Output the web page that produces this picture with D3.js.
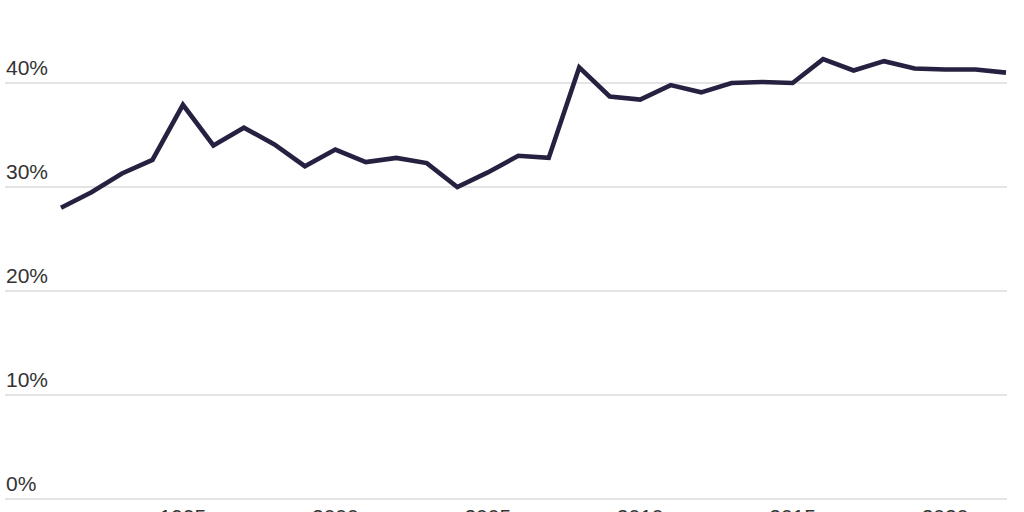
<!DOCTYPE html>
<html>
<head>
<meta charset="utf-8">
<script src="https://cdn.jsdelivr.net/npm/d3@7"></script>
<style>
  html, body { margin: 0; padding: 0; background: #fff; overflow: hidden; }
  svg { display: block; }
</style>
</head>
<body>
<svg id="chart" width="1024" height="512"></svg>
<script>
const years = [1991,1992,1993,1994,1995,1996,1997,1998,1999,2000,2001,2002,2003,2004,2005,2006,2007,2008,2009,2010,2011,2012,2013,2014,2015,2016,2017,2018,2019,2020,2021,2022];
const values = [28.0,29.5,31.3,32.6,37.9,34.0,35.7,34.1,32.0,33.6,32.4,32.8,32.3,30.0,31.4,33.0,32.8,41.5,38.7,38.4,39.8,39.1,40.0,40.1,40.0,42.3,41.2,42.1,41.4,41.3,41.3,41.0];
const yTicks = [0,10,20,30,40];
const xTicks = [1995,2000,2005,2010,2015,2020];

const svg = d3.select("#chart");
const x = d3.scaleLinear().domain([1991, 2022]).range([61, 1006]);
const y = d3.scaleLinear().domain([0, 40]).range([499, 83]);

// gridlines
svg.append("g").selectAll("line").data(yTicks).join("line")
  .attr("x1", 5).attr("x2", 1007)
  .attr("y1", d => y(d)).attr("y2", d => y(d))
  .attr("stroke", "#e4e4e4").attr("stroke-width", 2);

// y labels
svg.append("g").selectAll("text").data(yTicks).join("text")
  .attr("x", 6).attr("y", d => y(d) - 8)
  .attr("font-family", "'Liberation Sans', Arial, sans-serif")
  .attr("font-size", 21).attr("fill", "#333")
  .text(d => d + "%");

// x labels
svg.append("g").selectAll("text").data(xTicks).join("text")
  .attr("x", d => x(d)).attr("y", 524)
  .attr("text-anchor", "middle")
  .attr("font-family", "'Liberation Sans', Arial, sans-serif")
  .attr("font-size", 21).attr("fill", "#333")
  .text(d => d);

// line
const line = d3.line().x((d, i) => x(years[i])).y(d => y(d));
svg.append("path").datum(values)
  .attr("d", line)
  .attr("fill", "none")
  .attr("stroke", "#262140")
  .attr("stroke-width", 4.6)
  .attr("stroke-linejoin", "miter");
</script>
</body>
</html>
